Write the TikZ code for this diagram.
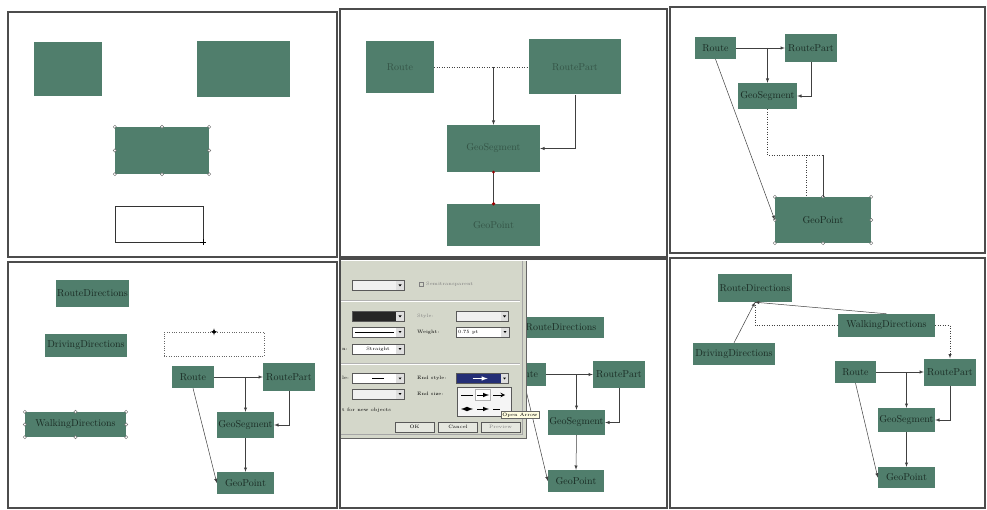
\documentclass[tikz,border=0pt]{standalone}
\definecolor{boxgreen}{RGB}{80,126,108}
\definecolor{boxtext}{RGB}{26,44,36}
\definecolor{fainttext}{RGB}{52,84,70}
\definecolor{dlggray}{RGB}{212,215,202}
\definecolor{selblue}{RGB}{36,46,118}
\tikzset{
  cls/.style={fill=boxgreen, text=boxtext, font=\fontsize{10}{11}\selectfont, inner sep=0pt},
  conn/.style={draw=black!75, line width=0.5pt},
  frame/.style={draw=black!70, line width=2pt},
  dlgtext/.style={font=\fontsize{4.8}{5}\selectfont, inner sep=0pt},
  dd/.style={draw=gray!70!black, fill=white, minimum width=52pt, minimum height=10pt, inner sep=0pt,
    font=\fontsize{4.8}{5}\selectfont,
    path picture={
      \fill[gray!25] ([xshift=-8pt]path picture bounding box.north east) rectangle (path picture bounding box.south east);
      \fill[black] ([xshift=-5.5pt,yshift=1pt]path picture bounding box.east) -- ++(3pt,0) -- ++(-1.5pt,-2pt) -- cycle;}},
  btn/.style={dlgtext, draw=gray!70!black, fill=dlggray!60!white, minimum width=39pt, minimum height=10pt}
}
\newcommand{\selhandles}[1]{%
  \foreach \h in {north west,north,north east,east,south east,south,south west,west}
    {\draw[gray!70!black, fill=white, line width=0.3pt] (#1.\h) circle (1.6pt);}}

\begin{document}
\begin{tikzpicture}[x=1pt,y=-1pt]
\useasboundingbox (0,0) rectangle (987,510);
\fill[white] (0,0) rectangle (987,510);

% panel 1: shapes only
\node[cls, minimum width=68pt, minimum height=54pt] (a1) at (68,69) {};
\node[cls, minimum width=93pt, minimum height=56pt] (b1) at (243.5,69) {};
\node[cls, minimum width=94pt, minimum height=47pt] (c1) at (162,150.5) {};
\selhandles{c1}
\node[draw=black!80, minimum width=88pt, minimum height=36pt, inner sep=0pt] (d1) at (159,224) {};
\draw[line width=0.8pt] ([xshift=-3pt]d1.south east) -- ([xshift=3pt]d1.south east)
  ([yshift=-3pt]d1.south east) -- ([yshift=3pt]d1.south east);

% panel 2: first links
\node[cls, text=fainttext, minimum width=68pt, minimum height=52pt] (route2) at (400,67) {Route};
\node[cls, text=fainttext, minimum width=92pt, minimum height=55pt] (part2) at (575,67) {RoutePart};
\node[cls, text=fainttext, minimum width=93pt, minimum height=47pt] (seg2) at (493.5,148.5) {GeoSegment};
\node[cls, text=fainttext, minimum width=93pt, minimum height=42pt] (point2) at (493.5,225) {GeoPoint};

\draw[conn, dotted] (route2.east) -- (part2.west);
\draw[conn, -latex] (seg2.north |- route2.east) -- (seg2.north);
\draw[conn, -latex] (part2.south) |- (seg2.east);
\draw[conn] (seg2.south) -- (point2.north);
\fill[red!60!black] (seg2.south) circle (1.5pt);
\fill[red!60!black] (point2.north) circle (1.8pt);

% panel 3: resized boxes
\node[cls, minimum width=41pt, minimum height=22pt] (route3) at (715.5,48) {Route};
\node[cls, minimum width=52pt, minimum height=28pt] (part3) at (811,48) {RoutePart};
\node[cls, minimum width=59pt, minimum height=26pt] (seg3) at (767.5,96) {GeoSegment};
\node[cls, minimum width=96pt, minimum height=46pt] (point3) at (823,220) {GeoPoint};
\selhandles{point3}
\coordinate (bend3) at (823,155);
\coordinate (drop3) at (806,155);

\draw[conn, -latex] (route3.east) -- (part3.west);
\draw[conn, -latex] (seg3.north |- route3.east) -- (seg3.north);
\draw[conn, -latex] (part3.south) |- (seg3.east);
\draw[conn, dotted] (seg3.south) |- (bend3);
\draw[conn] (bend3) -- (point3.north);
\draw[conn, dotted] (drop3) -- (drop3 |- point3.north);
\draw[conn, -latex] (route3.south) -- (point3.west);

% panel 4: direction classes added
\node[cls, minimum width=73pt, minimum height=27pt] (rdir4) at (92.5,293.5) {RouteDirections};
\node[cls, minimum width=82pt, minimum height=23pt] (ddir4) at (86,345.5) {DrivingDirections};
\node[cls, minimum width=101pt, minimum height=25pt] (wdir4) at (75.5,424.5) {WalkingDirections};
\selhandles{wdir4}
\node[draw=black!60, dotted, minimum width=100pt, minimum height=24pt, inner sep=0pt] (ghost4) at (214,344) {};
\foreach \dx/\dy in {0/-3.5,0/3.5,-3.5/0,3.5/0}
  \draw[-latex, line width=0.4pt] (ghost4.north) -- ++(\dx,\dy);
\node[cls, minimum width=42pt, minimum height=22pt] (route4) at (193,377) {Route};
\node[cls, minimum width=52pt, minimum height=28pt] (part4) at (289,377) {RoutePart};
\node[cls, minimum width=57pt, minimum height=26pt] (seg4) at (245.5,425) {GeoSegment};
\node[cls, minimum width=57pt, minimum height=22pt] (point4) at (245.5,483) {GeoPoint};

\draw[conn, -latex] (route4.east) -- (part4.west);
\draw[conn, -latex] (seg4.north |- route4.east) -- (seg4.north);
\draw[conn, -latex] (part4.south) |- (seg4.east);
\draw[conn, -latex] (seg4.south) -- (point4.north);
\draw[conn, -latex] (route4.south) -- (point4.west);

% panel 5: line dialog over the model
\node[cls, minimum width=86pt, minimum height=21pt] (rdir5) at (561,327.5) {RouteDirections};
\node[cls, minimum width=42pt, minimum height=23pt] (route5) at (525,374.5) {Route};
\node[cls, minimum width=52pt, minimum height=27pt] (part5) at (619,374.5) {RoutePart};
\node[cls, minimum width=57pt, minimum height=25pt] (seg5) at (576.5,422.5) {GeoSegment};
\node[cls, minimum width=56pt, minimum height=22pt] (point5) at (576,481) {GeoPoint};

\draw[conn, -latex] (route5.east) -- (part5.west);
\draw[conn, -latex] (seg5.north |- route5.east) -- (seg5.north);
\draw[conn, -latex] (part5.south) |- (seg5.east);
\draw[conn, -latex] (seg5.south) -- (point5.north);
\draw[conn, -latex] (route5.south) -- (point5.west);

\fill[dlggray] (341,261) rectangle (526,438);
\draw[gray!70] (522,261) -- (522,434) -- (341,434);
\draw[black!60, line width=0.6pt] (526,261) -- (526,438) -- (341,438);
\draw[gray!60] (341,300) -- (520,300);
\draw[white] (341,301) -- (520,301);
\draw[gray!60] (341,363) -- (520,363);
\draw[white] (341,364) -- (520,364);

\node[dd, fill=gray!12] (trans) at (378,285.5) {};
\draw[gray] (419,282) rectangle (423,286);
\node[dlgtext, text=gray, anchor=west] (semi) at (426,284) {Semitransparent};
\node[dd, fill=black!85] (lcolor) at (378,316.5) {};
\node[dlgtext, text=gray, anchor=west] (stylelab) at (417,316) {Style:};
\node[dd, fill=gray!12] (lstyle) at (482.5,316.5) {};
\node[dd] (ldash) at (378,332) {};
\draw[line width=0.8pt] ([xshift=3pt]ldash.west) -- ([xshift=-10pt]ldash.east);
\node[dlgtext, anchor=west] (weightlab) at (417,332) {Weight:};
\node[dd, minimum width=53pt] (lweight) at (482.5,332) {};
\node[dlgtext, anchor=west] (wval) at ([xshift=2pt]lweight.west) {0.75 pt};
\node[dlgtext, anchor=west] (connlab) at (342,349) {n:};
\node[dd] (lconn) at (378,349) {Straight};
\node[dlgtext, anchor=west] (bstylelab) at (342,378) {le:};
\node[dd] (bstyle) at (378,378.5) {};
\draw[line width=1.2pt] ([xshift=-6pt]bstyle.center) -- ([xshift=6pt]bstyle.center);
\node[dlgtext, anchor=west] (estylelab) at (417,378) {End style:};
\node[dd, fill=selblue] (estyle) at (482.5,378.5) {};
\draw[white, line width=1pt, -latex] ([xshift=-10pt]estyle.center) -- ([xshift=5pt]estyle.center);
\node[dd, fill=gray!12] (bsize) at (378,394) {};
\node[dlgtext, anchor=west] (esizelab) at (417,394) {End size:};
\node[dlgtext, anchor=west] (deflab) at (342,410) {t for new objects};

\node[draw=gray!70!black, fill=gray!8, minimum width=54pt, minimum height=29pt, inner sep=0pt] (menu) at (484,401.5) {};
\node[draw=gray!60, fill=white, minimum width=15pt, minimum height=11pt, inner sep=0pt] (pick) at (483,395) {};
\draw[line width=1pt] (461,395) -- (473,395);
\draw[line width=1pt, -latex] (477,395) -- (489,395);
\draw[line width=1pt, -stealth] (493,395) -- (505,395);
\draw[line width=1pt, latex-latex] (461,409) -- (473,409);
\draw[line width=1pt, -latex] (477,409) -- (489,409);
\draw[line width=1pt] (493,409) -- (500,409);
\node[dlgtext, draw=black!60, fill=yellow!12, inner sep=1.2pt] (tip) at (520,415) {Open Arrow};

\node[btn] (ok) at (414.5,427) {OK};
\node[btn] (cancel) at (458,427) {Cancel};
\node[btn, text=gray] (preview) at (500.5,427) {Preview};

% panel 6: full model
\node[cls, minimum width=74pt, minimum height=28pt] (rdir6) at (755,288) {RouteDirections};
\node[cls, minimum width=97pt, minimum height=23pt] (wdir6) at (886.5,325.5) {WalkingDirections};
\node[cls, minimum width=82pt, minimum height=22pt] (ddir6) at (734,354) {DrivingDirections};
\node[cls, minimum width=41pt, minimum height=22pt] (route6) at (855.5,372) {Route};
\node[cls, minimum width=52pt, minimum height=27pt] (part6) at (950,372) {RoutePart};
\node[cls, minimum width=57pt, minimum height=24pt] (seg6) at (906.5,420) {GeoSegment};
\node[cls, minimum width=57pt, minimum height=21pt] (point6) at (906.5,477.5) {GeoPoint};

\draw[conn, -latex] (ddir6.north) -- (rdir6.south);
\draw[conn, -latex] (wdir6.north) -- (rdir6.south);
\draw[conn, dotted] (rdir6.south) |- (wdir6.west);
\draw[conn, dotted, -latex] (wdir6.east) -| (part6.north);
\draw[conn, -latex] (route6.east) -- (part6.west);
\draw[conn, -latex] (seg6.north |- route6.east) -- (seg6.north);
\draw[conn, -latex] (part6.south) |- (seg6.east);
\draw[conn, -latex] (seg6.south) -- (point6.north);
\draw[conn, -latex] (route6.south) -- (point6.west);

% frames
\foreach \x/\y/\X/\Y in {8/12/337/257, 340/9/667/257, 670/7/985/253,
                         8/262/337/508, 340/259/667/508, 670/258/985/508}
  \draw[frame] (\x,\y) rectangle (\X,\Y);
\end{tikzpicture}
\end{document}
